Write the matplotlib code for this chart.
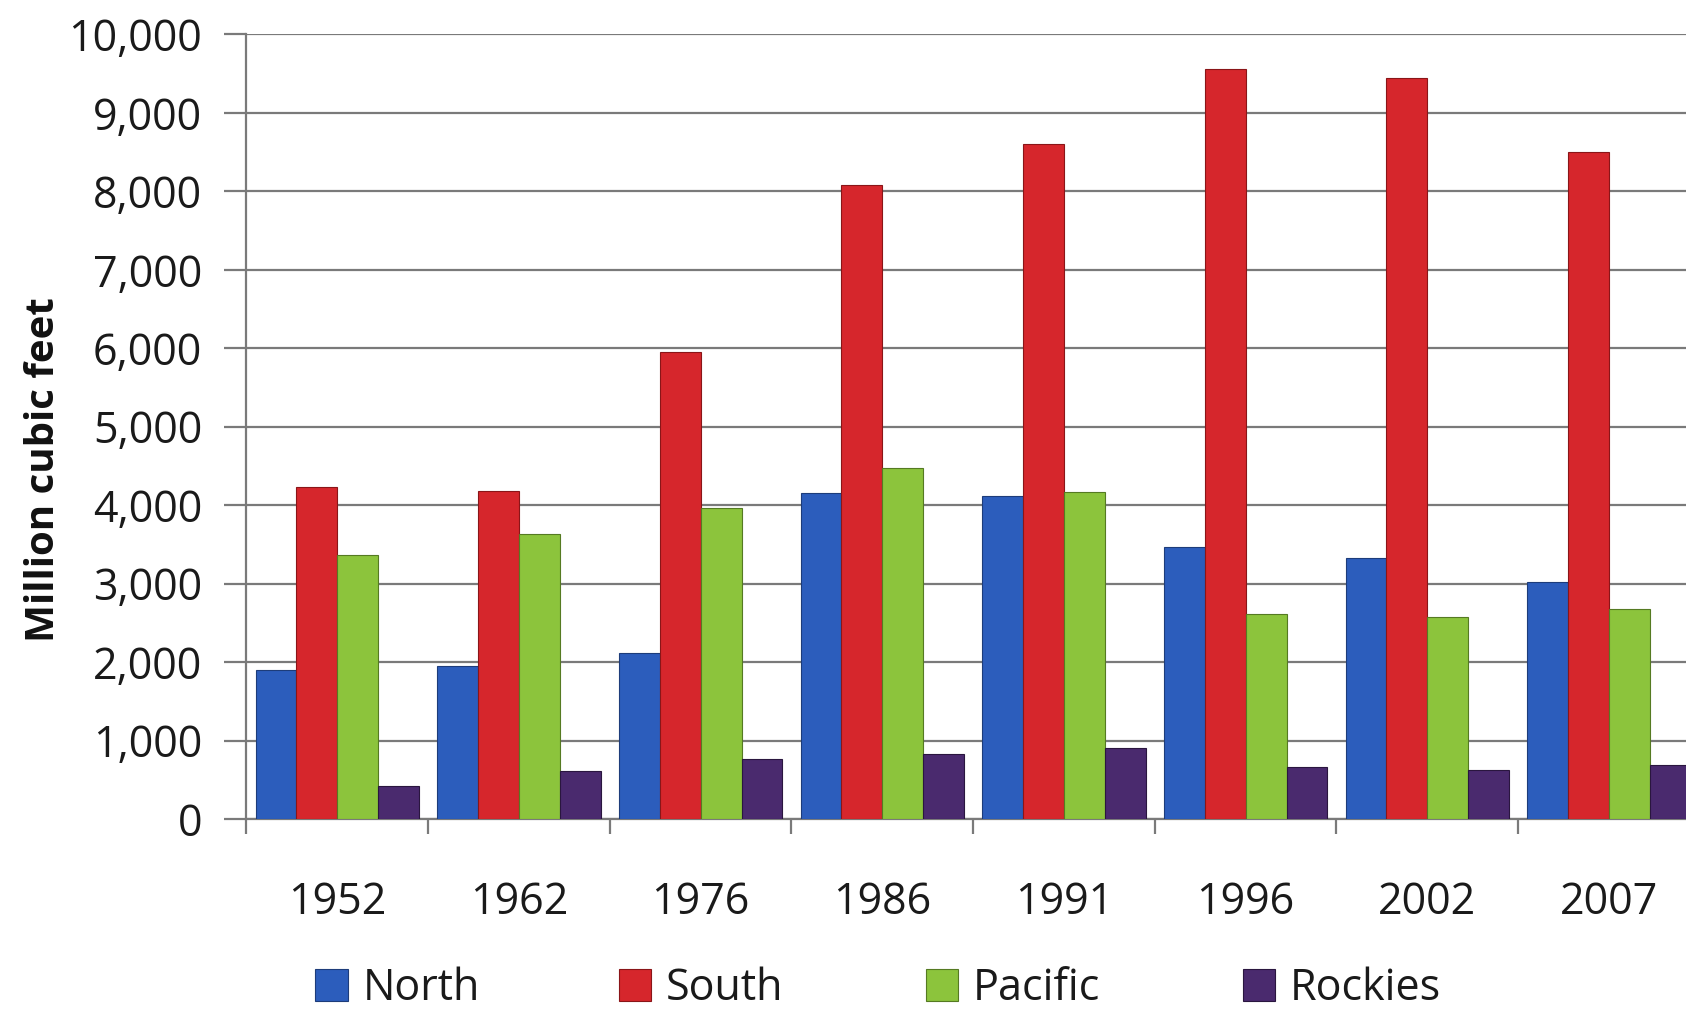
import numpy as np
import matplotlib
matplotlib.use("Agg")
import matplotlib.pyplot as plt

plt.rcParams['font.family'] = ['Open Sans', 'DejaVu Sans']

# data (million cubic feet)
years = ['1952', '1962', '1976', '1986', '1991', '1996', '2002', '2007']
north = [1900, 1950, 2120, 4150, 4120, 3470, 3330, 3020]
south = [4230, 4180, 5950, 8080, 8600, 9560, 9450, 8500]
pacific = [3370, 3630, 3960, 4470, 4170, 2610, 2580, 2680]
rockies = [420, 610, 760, 830, 910, 670, 630, 690]

series_names = ['North', 'South', 'Pacific', 'Rockies']
series_vals = [north, south, pacific, rockies]
colors = ['#2c5dbc', '#d6262c', '#8cc43c', '#4a2a6e']
edges = ['#1d3c7a', '#8a1518', '#557a22', '#2a163f']

fig = plt.figure(figsize=(16.86, 10.10), dpi=100)
ax = fig.add_axes([0.1462, 0.189, 0.862, 0.777])

x = np.arange(len(years))
w = 0.225
handles = []
for i, (name, vals) in enumerate(zip(series_names, series_vals)):
    b = ax.bar(x + (i - 1.5) * w, vals, width=w, color=colors[i],
               edgecolor=edges[i], linewidth=0.8, zorder=3, label=name)
    handles.append(b)

ax.set_xlim(-0.5, len(years) - 0.5)
ax.set_ylim(0, 10000)
ax.set_yticks(np.arange(0, 10001, 1000))
ax.set_yticklabels([f"{v:,}" for v in range(0, 10001, 1000)], fontsize=31)
ax.set_xticks(x)
ax.set_xticklabels(years, fontsize=31)
ax.set_xticks(np.arange(-0.5, len(years), 1), minor=True)

ax.grid(axis='y', color='#7a7a7a', linewidth=1.6, zorder=0)
ax.tick_params(axis='y', length=16, width=1.6, color='#7a7a7a', pad=16, labelcolor='#1a1a1a')
ax.tick_params(axis='x', which='major', length=0, pad=44, labelcolor='#1a1a1a')
ax.tick_params(axis='x', which='minor', length=11, width=1.6, color='#7a7a7a')

for s in ['top', 'right']:
    ax.spines[s].set_visible(False)
for s in ['left', 'bottom']:
    ax.spines[s].set_color('#7a7a7a')
    ax.spines[s].set_linewidth(1.6)

fig.text(0.026, 0.535, 'Million cubic feet', rotation=90, fontsize=29,
         fontweight='bold', ha='center', va='center', color='#111111')

# legend entries spaced evenly like the original
leg_x = [0.187, 0.367, 0.549, 0.737]
for h, name, lx in zip(handles, series_names, leg_x):
    leg = fig.legend(handles=[h], labels=[name], loc='center left',
                     bbox_to_anchor=(lx, 0.021), frameon=False, fontsize=31,
                     handlelength=0.75, handleheight=0.75, handletextpad=0.35,
                     borderpad=0, borderaxespad=0)
    for t in leg.get_texts():
        t.set_color('#1a1a1a')

fig.savefig('out.png', dpi=100, facecolor='white')
